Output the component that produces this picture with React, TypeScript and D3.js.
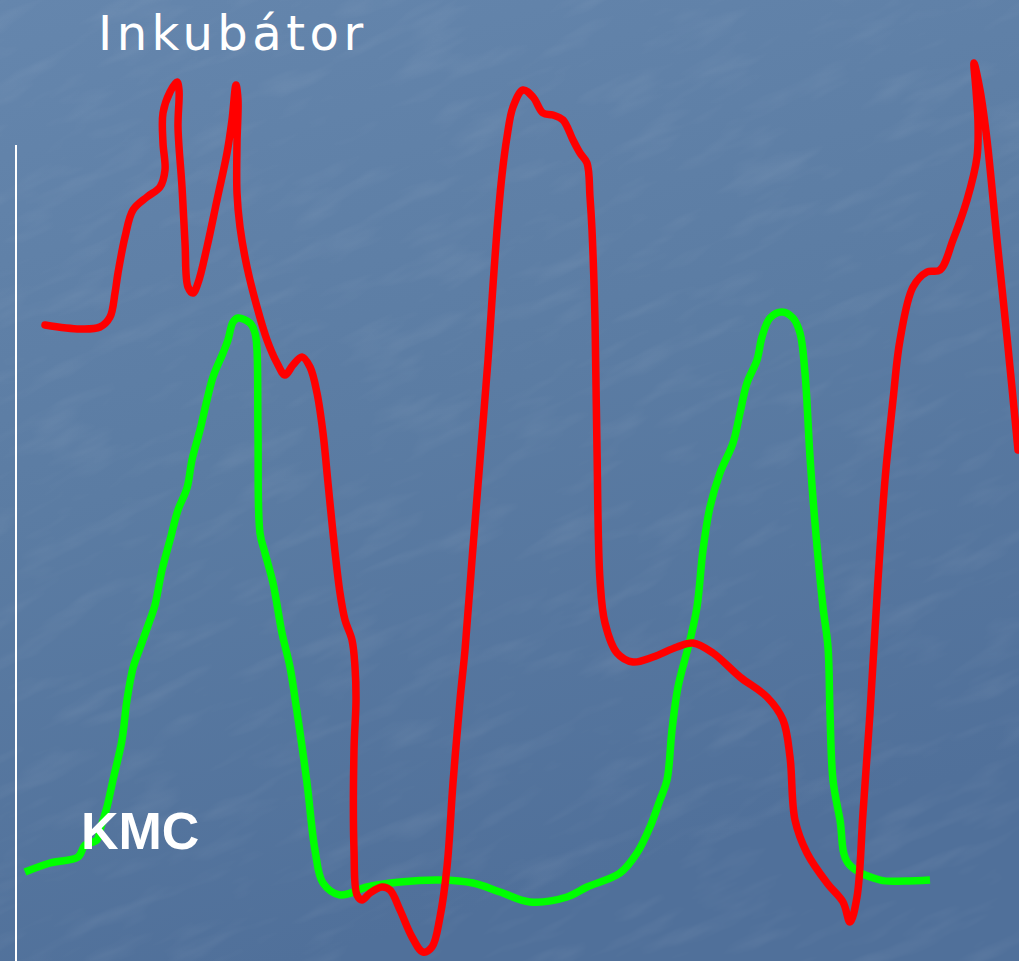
import React from "react";
import * as d3 from "d3";

const W = 1019;
const H = 961;

// Inkubátor curve (red): [time, level]
const inkubatorX = [45,80,100,110,115,118,125,133,147,160,165,163,163,170,177,179,178,182,185,188,193,198,207,217,227,232,236,238,237,237,240,247,257,267,277,285,293,302,310,317,323,328,333,340,345,352,355,356,354,354,357,362,370,382,390,400,412,423,432,440,447,453,460,465,472,480,488,492,497,502,507,513,523,533,543,553,563,573,580,587,590,592,595,597,600,605,617,633,653,677,693,713,740,767,783,790,795,807,827,843,850,857,863,870,878,885,893,900,913,927,940,953,967,977,978,976,974,980,987,997,1007,1018];
const inkubatorY = [636,632,634,644,668,688,724,751,764,774,791,818,848,869,879,871,834,774,718,674,668,678,714,761,808,841,876,861,818,768,734,694,654,621,598,586,596,604,594,568,528,478,428,368,341,321,294,261,211,111,66,61,68,74,71,51,24,9,14,44,94,178,261,311,401,501,601,661,731,786,824,854,871,864,848,846,841,821,808,798,764,731,641,511,381,338,308,299,304,314,318,308,284,264,241,204,141,108,78,59,39,64,148,248,381,481,561,621,674,689,691,721,761,804,838,871,898,871,821,721,624,511];

// KMC curve (green): [time, level]
const kmcX = [25,50,78,85,97,100,107,113,122,127,133,140,150,155,162,170,178,187,192,200,207,213,223,228,233,238,250,255,257,258,260,265,273,282,290,296,307,315,323,340,367,400,440,473,500,530,567,587,620,637,650,660,667,672,678,690,697,703,710,720,733,740,747,757,762,770,782,793,800,805,810,815,823,828,830,833,840,848,880,905,930];
const kmcY = [89,98,104,116,121,131,154,181,221,261,293,313,341,356,391,421,451,473,501,531,561,584,608,621,639,643,638,628,611,528,428,408,378,328,294,256,178,111,78,66,74,79,81,78,69,59,64,74,88,108,134,161,181,231,274,321,354,411,454,488,518,548,578,601,624,643,649,643,628,588,504,438,354,314,248,181,141,98,81,80,81];

const titleLabel = "Inkubátor";
const kmcLabel = "KMC";

export default function App() {
  const x = d3.scaleLinear().domain([0, W]).range([0, W]);
  const y = d3.scaleLinear().domain([0, H]).range([H, 0]);
  const line = d3
    .line<[number, number]>()
    .x((d) => x(d[0]))
    .y((d) => y(d[1]))
    .curve(d3.curveCatmullRom.alpha(0.5));

  const red = line(inkubatorX.map((v, i) => [v, inkubatorY[i]] as [number, number])) || "";
  const green = line(kmcX.map((v, i) => [v, kmcY[i]] as [number, number])) || "";

  return (
    <svg
      width={W}
      height={H}
      style={{ position: "absolute", left: 0, top: 0, display: "block" }}
    >
      <defs>
        <linearGradient id="bg" x1="0" y1="0" x2="0.3" y2="1">
          <stop offset="0" stopColor="#6586ad" />
          <stop offset="0.5" stopColor="#5b7ca3" />
          <stop offset="1" stopColor="#50709a" />
        </linearGradient>
        <filter id="tex" x="0" y="0" width="100%" height="100%">
          <feTurbulence type="fractalNoise" baseFrequency="0.012 0.05" numOctaves="3" seed="4" result="n" />
          <feColorMatrix
            in="n"
            type="matrix"
            values="0 0 0 0 1  0 0 0 0 1  0 0 0 0 1  0 0 0 1.1 -0.55"
          />
        </filter>
      </defs>
      <rect x={0} y={0} width={W} height={H} fill="url(#bg)" />
      <g transform={`rotate(-25 ${W / 2} ${H / 2})`} opacity={0.13}>
        <rect x={-300} y={-300} width={W + 600} height={H + 600} filter="url(#tex)" />
      </g>
      <line x1={x(16)} x2={x(16)} y1={y(H - 145)} y2={y(0)} stroke="#ffffff" strokeWidth={2} />
      <path d={green} fill="none" stroke="#00ff00" strokeWidth={7.5} strokeLinejoin="round" strokeLinecap="butt" />
      <path d={red} fill="none" stroke="#ff0000" strokeWidth={7.5} strokeLinejoin="round" strokeLinecap="round" />
      <text
        x={98}
        y={50}
        fill="#ffffff"
        fontFamily="DejaVu Sans, Verdana, sans-serif"
        fontSize={48}
        letterSpacing={4.5}
      >
        {titleLabel}
      </text>
      <text
        x={81}
        y={849}
        fill="#ffffff"
        fontFamily="Liberation Sans, Arial, sans-serif"
        fontWeight="bold"
        fontSize={52}
      >
        {kmcLabel}
      </text>
    </svg>
  );
}
